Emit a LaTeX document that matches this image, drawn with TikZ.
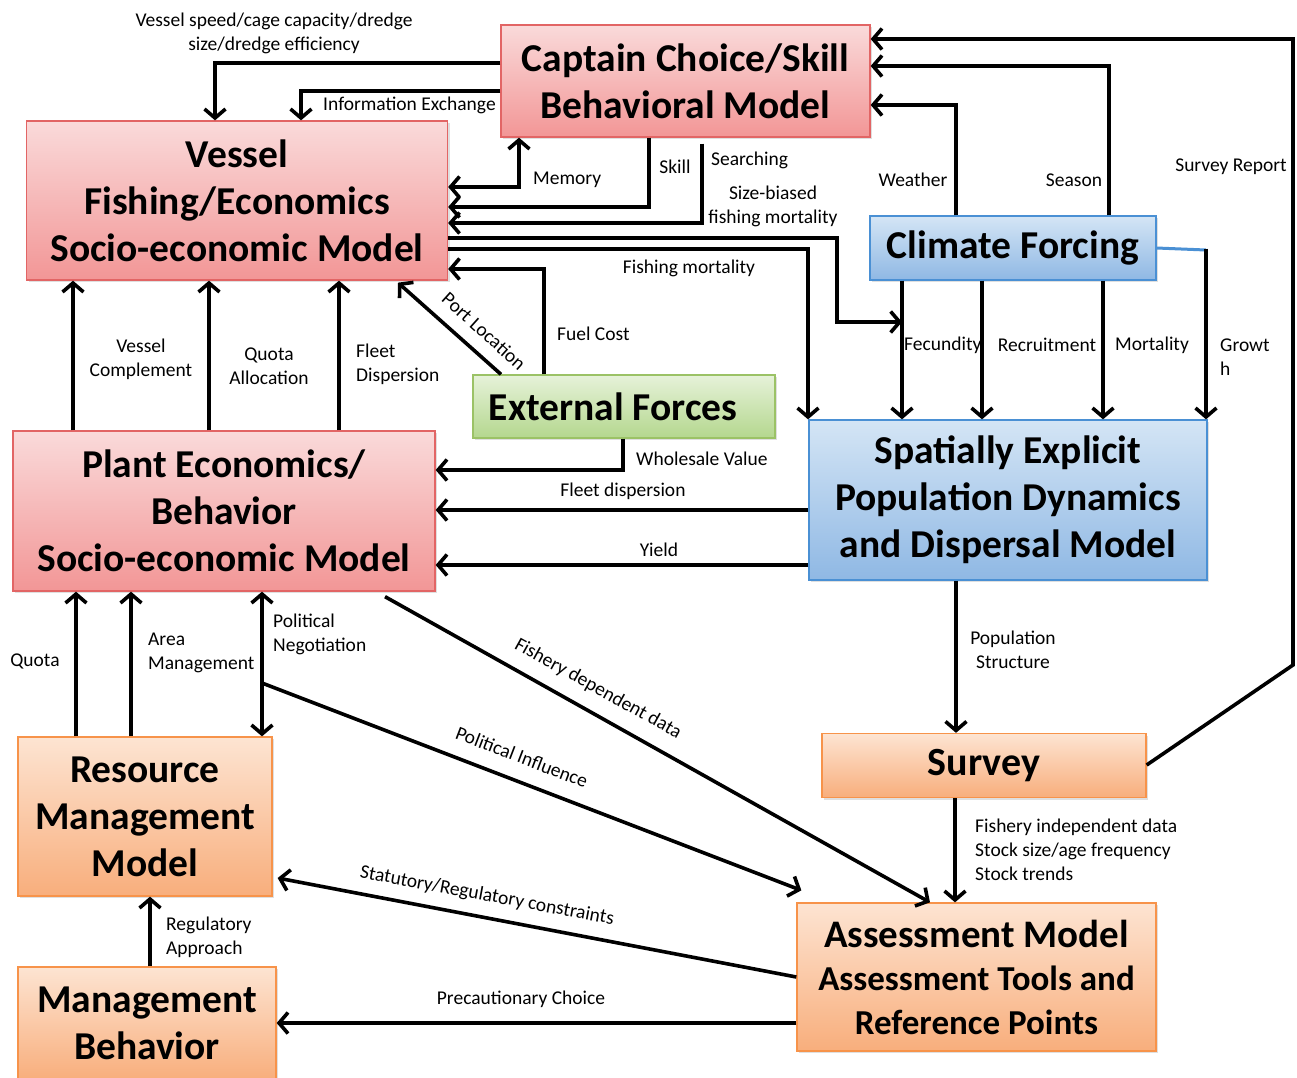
\documentclass[tikz,border=0pt]{standalone}
\usepackage{fontspec}
\setmainfont{Carlito}
\usetikzlibrary{arrows.meta,shadows,calc}
\definecolor{redtop}{HTML}{FADADA}
\definecolor{redbot}{HTML}{F29696}
\definecolor{redline}{HTML}{E26565}
\definecolor{ortop}{HTML}{FDE4D2}
\definecolor{orbot}{HTML}{F8AE7C}
\definecolor{orline}{HTML}{F7934A}
\definecolor{bltop}{HTML}{D4E5F5}
\definecolor{blbot}{HTML}{8FB8E4}
\definecolor{blline}{HTML}{4A90D4}
\definecolor{grtop}{HTML}{E6F2D9}
\definecolor{grbot}{HTML}{B4D78E}
\definecolor{grline}{HTML}{9BC266}
\tikzset{
  >={Straight Barb[length=9pt,width=21pt]},
  box/.style={draw, line width=1.3pt, inner sep=0pt, align=center,
    font=\fontsize{39.5}{47}\selectfont\bfseries,
    drop shadow={opacity=0.25, shadow xshift=2pt, shadow yshift=-2pt}},
  redbox/.style={box, draw=redline, top color=redtop, bottom color=redbot},
  orbox/.style={box, draw=orline, top color=ortop, bottom color=orbot},
  blbox/.style={box, draw=blline, top color=bltop, bottom color=blbot},
  grbox/.style={box, draw=grline, top color=grtop, bottom color=grbot},
  conn/.style={line width=3.6pt, black},
  lbl/.style={inner sep=0pt, align=center, font=\fontsize{19.5}{24}\selectfont},
}
\begin{document}
\begin{tikzpicture}[x=1pt,y=-1pt]
\useasboundingbox (0,0) rectangle (1297,1077);
\clip (0,0) rectangle (1297,1077);
\fill[white] (0,0) rectangle (1297,1077);

% boxes
\node[redbox, minimum width=369pt, minimum height=112pt] (capt) at (685.5,81) {Captain Choice/Skill\\Behavioral Model};
\node[redbox, minimum width=421pt, minimum height=159pt] (vess) at (237,200.5) {Vessel\\Fishing/Economics\\Socio-economic Model};
\node[blbox, minimum width=286pt, minimum height=64pt, font=\fontsize{39.5}{47}\selectfont\bfseries] (clim) at (1013,248) {Climate Forcing};
\node[grbox, minimum width=302pt, minimum height=63pt, font=\fontsize{39.5}{47}\selectfont\bfseries] (ext) at (624,406.5) {External Forces\hspace*{22pt}};
\node[redbox, minimum width=422pt, minimum height=160pt] (plant) at (224,511) {Plant Economics/\\Behavior\\Socio-economic Model};
\node[blbox, minimum width=398pt, minimum height=160pt] (spat) at (1008,500) {Spatially Explicit\\Population Dynamics\\and Dispersal Model};
\node[orbox, minimum width=324pt, minimum height=64pt, font=\fontsize{40}{47}\selectfont\bfseries] (surv) at (984,765.5) {Survey};
\node[orbox, minimum width=359pt, minimum height=148pt, font=\fontsize{35}{43.5}\selectfont\bfseries] (assess) at (976.5,977) {{\fontsize{39}{43.5}\selectfont Assessment Model}\\Assessment Tools and\\Reference Points};
\node[orbox, minimum width=254pt, minimum height=159pt] (res) at (145,816.5) {Resource\\Management\\Model};
\node[orbox, minimum width=258pt, minimum height=113pt] (mgmt) at (147,1023.5) {Management\\Behavior};

% helper coordinates
\coordinate (fecj) at (902,322);
\coordinate (gr) at (1206,250);
\coordinate (sr1) at (1293,665);
\coordinate (sr2) at (1293,39);
\coordinate (pn) at (262,683);

% connectors
\draw[conn,->] (capt.west |- 0,63) -| (vess.north -| 215,0);
\draw[conn,->] (capt.west |- 0,91) -| (vess.north -| 301,0);
\draw[conn,<->] (vess.east |- 0,187) -| (capt.south -| 519,0);
\draw[conn,->] (capt.south -| 649,0) |- (vess.east |- 0,207);
\draw[conn,->] ($(capt.south -| 702,0)+(0,6)$) |- (vess.east |- 0,223);
\draw[conn,->] (vess.east |- 0,238) -| (fecj -| 837,0) -- (fecj);
\draw[conn,->] (vess.east |- 0,249) -| (spat.north -| 808,0);
\draw[conn,->] (ext.north -| 544,0) |- (vess.east |- 0,269);
\draw[conn,->] (ext.north -| 501,0) -- ($(vess.south -| 398,0)+(0,2)$);
\draw[conn,->] (clim.north -| 956,0) |- (capt.east |- 0,105);
\draw[conn,->] (clim.north -| 1109,0) |- (capt.east |- 0,66);
\draw[conn,->] (surv.east |- 0,765) -- (sr1) -- (sr2) -- (capt.east |- sr2);
\draw[conn,->] (clim.south -| fecj) -- (spat.north -| fecj);
\draw[conn,->] (clim.south -| 982,0) -- (spat.north -| 982,0);
\draw[conn,->] (clim.south -| 1103,0) -- (spat.north -| 1103,0);
\draw[line width=3pt, blline] (clim.east |- 0,248) -- (gr);
\draw[conn,->] ($(gr)+(0,-1.5)$) -- (spat.north -| gr);
\draw[conn,->] (plant.north -| 73,0) -- (vess.south -| 73,0);
\draw[conn,->] (plant.north -| 209,0) -- (vess.south -| 209,0);
\draw[conn,->] (plant.north -| 339,0) -- (vess.south -| 339,0);
\draw[conn,->] (ext.south -| 623,0) |- (plant.east |- 0,470);
\draw[conn,->] (spat.west |- 0,510) -- (plant.east |- 0,510);
\draw[conn,->] (spat.west |- 0,565) -- (plant.east |- 0,565);
\draw[conn,->] (spat.south -| 956,0) -- (surv.north -| 956,0);
\draw[conn,->] (surv.south -| 955,0) -- (assess.north -| 955,0);
\draw[conn,->] (res.north -| 76,0) -- (plant.south -| 76,0);
\draw[conn,->] (res.north -| 131,0) -- (plant.south -| 131,0);
\draw[conn,<->] (plant.south -| 262,0) -- (res.north -| 262,0);
\draw[conn,->] (pn) -- ($(assess.north west)+(5,-12)$);
\draw[conn,->] ($(plant.south -| 385,0)+(0,5)$) -- (assess.north -| 930,0);
\draw[conn,->] (assess.west |- 0,977) -- ($(res.east |- 0,878)+(5,0)$);
\draw[conn,->] (assess.west |- 0,1023) -- (mgmt.east |- 0,1023);
\draw[conn,->] (mgmt.north -| 150,0) -- (res.south -| 150,0);

% labels
\node[lbl] (l1) at (274,33) {Vessel speed/cage capacity/dredge\\size/dredge efficiency};
\node[lbl, anchor=west] (l2) at (323,105) {Information Exchange};
\node[lbl, anchor=west] (l3) at (533,180) {Memory};
\node[lbl] (l4) at (675,167) {Skill};
\node[lbl, anchor=west] (l5) at (711,160) {Searching};
\node[lbl] (l6) at (773,206.5) {Size-biased\\fishing mortality};
\node[lbl] (l7) at (913,180) {Weather};
\node[lbl] (l8) at (1074,180) {Season};
\node[lbl] (l9) at (1231,167) {Survey Report};
\node[lbl] (l10) at (689,268) {Fishing mortality};
\node[lbl, anchor=west] (l11) at (557,334) {Fuel Cost};
\node[lbl, rotate=-42] (l12) at (484,331) {Port Location};
\node[lbl, anchor=west] (l13) at (904,345) {Fecundity};
\node[lbl] (l14) at (1047,345) {Recruitment};
\node[lbl] (l15) at (1152,345) {Mortality};
\node[lbl, anchor=west, align=left] (l16) at (1220,357) {Growt\\h};
\node[lbl] (l17) at (141,359) {Vessel\\Complement};
\node[lbl] (l18) at (269,366) {Quota\\Allocation};
\node[lbl, anchor=west, align=left] (l19) at (356,364) {Fleet\\Dispersion};
\node[lbl, anchor=west] (l20) at (636,459) {Wholesale Value};
\node[lbl] (l21) at (623,491) {Fleet dispersion};
\node[lbl] (l22) at (659,550) {Yield};
\node[lbl] (l23) at (1013,650) {Population\\Structure};
\node[lbl, anchor=west, align=left] (l24) at (975,850) {Fishery independent data\\Stock size/age frequency\\Stock trends};
\node[lbl] (l25) at (35,661) {Quota};
\node[lbl, anchor=west, align=left] (l26) at (148,653) {Area\\Management};
\node[lbl, anchor=west, align=left] (l27) at (273,634) {Political\\Negotiation};
\node[lbl, rotate=-29] (l28) at (598,689) {Fishery dependent data};
\node[lbl, rotate=-21] (l29) at (522,757) {Political Influence};
\node[lbl, rotate=-10.5] (l30) at (487,896) {Statutory/Regulatory constraints};
\node[lbl] (l31) at (521,999) {Precautionary Choice};
\node[lbl, anchor=west, align=left] (l32) at (166,937) {Regulatory\\Approach};
\end{tikzpicture}
\end{document}
